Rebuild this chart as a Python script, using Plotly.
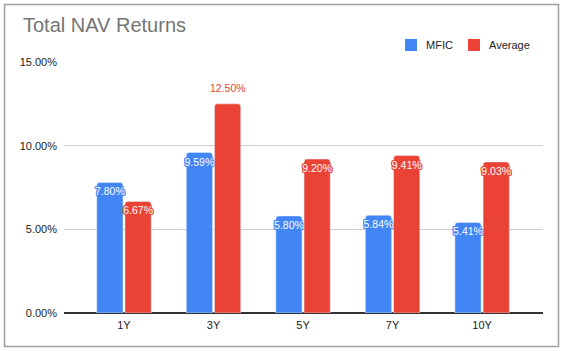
import plotly.graph_objects as go

categories = ["1Y", "3Y", "5Y", "7Y", "10Y"]
mfic = [0.0780, 0.0959, 0.0580, 0.0584, 0.0541]
average = [0.0667, 0.1250, 0.0920, 0.0941, 0.0903]
tick_vals = [0, 0.05, 0.10, 0.15]
tick_text = ["0.00%", "5.00%", "10.00%", "15.00%"]
series_names = ["MFIC", "Average"]

BLUE = "#4285F4"
RED = "#EA4335"
FONT = "Liberation Sans, Arial, sans-serif"
BARGAP = 0.37

W, H = 563, 351
L, R, T, B = 64, 20, 62, 38
pw, ph = W - L - R, H - T - B


def px_x(x):
    return (x - L) / pw


def px_y(y):
    return (H - B - y) / ph


def halo(c):
    return ", ".join(f"{dx}px {dy}px 0 {c}" for dx in (-1, 0, 1) for dy in (-1, 0, 1) if dx or dy)


OUTSIDE_LIMIT = 0.11
avg_inside = [v <= OUTSIDE_LIMIT for v in average]

fig = go.Figure()
fig.add_trace(go.Bar(
    x=categories, y=mfic, name=series_names[0], marker_color=BLUE,
    text=[f"{v*100:.2f}%" for v in mfic], textposition="inside",
    insidetextanchor="end", textangle=0, constraintext="none",
    textfont=dict(color="white", size=10.5, family=FONT, shadow=halo(BLUE)),
    cliponaxis=False, showlegend=False,
))
fig.add_trace(go.Bar(
    x=categories, y=average, name=series_names[1], marker_color=RED,
    text=[f"{v*100:.2f}%" if ins else "" for v, ins in zip(average, avg_inside)],
    textposition="inside",
    insidetextanchor="end", textangle=0, constraintext="none",
    textfont=dict(color="white", size=10.5, family=FONT, shadow=halo(RED)),
    cliponaxis=False, showlegend=False,
))

annotations = []
offset = (1 - BARGAP) / 4
for i, (v, ins) in enumerate(zip(average, avg_inside)):
    if not ins:
        annotations.append(dict(
            x=i + offset, y=v, xref="x", yref="y", text=f"{v*100:.2f}%",
            showarrow=False, yanchor="bottom", yshift=8,
            font=dict(color=RED, size=10.5, family=FONT)))

# legend (manual, to match spacing)
legend_items = [(series_names[0], BLUE, 405), (series_names[1], RED, 468)]
shapes = []
for name, col, x0 in legend_items:
    shapes.append(dict(type="rect", xref="paper", yref="paper",
                       x0=px_x(x0), x1=px_x(x0 + 12), y0=px_y(51), y1=px_y(39),
                       fillcolor=col, line=dict(width=0)))
    annotations.append(dict(x=px_x(x0 + 19), y=px_y(45), xref="paper", yref="paper",
                            text=name, showarrow=False, xanchor="left", yanchor="middle",
                            font=dict(size=11, color="#222222", family=FONT)))

shapes.append(dict(type="rect", xref="paper", yref="paper",
                   x0=px_x(4.5), x1=px_x(558.5), y0=px_y(346.5), y1=px_y(4.5),
                   line=dict(color="#9e9e9e", width=1.5), layer="below"))

fig.update_layout(
    width=W, height=H,
    margin=dict(l=L, r=R, t=T, b=B, pad=0),
    paper_bgcolor="white", plot_bgcolor="white",
    barmode="group", bargap=BARGAP, bargroupgap=0.07,
    barcornerradius=3,
    font=dict(family=FONT, size=11, color="#222222"),
    title=dict(text="Total NAV Returns", x=23 / W, xanchor="left",
               y=1 - 25 / H, yanchor="middle",
               font=dict(size=20, color="#757575", family=FONT)),
    showlegend=False,
    shapes=shapes,
    annotations=annotations,
)
fig.update_xaxes(range=[-0.67, 4.68], showgrid=False, showline=False,
                 ticks="", tickfont=dict(size=11, color="#222222"),
                 ticklabelstandoff=4)
fig.update_yaxes(range=[0, 0.15], tickvals=tick_vals, ticktext=tick_text,
                 showgrid=True, gridcolor="#cccccc", gridwidth=1,
                 zeroline=True, zerolinecolor="#333333", zerolinewidth=1.5,
                 ticks="", ticklabelstandoff=6,
                 tickfont=dict(size=11, color="#222222"))

fig.write_html("out.html")
